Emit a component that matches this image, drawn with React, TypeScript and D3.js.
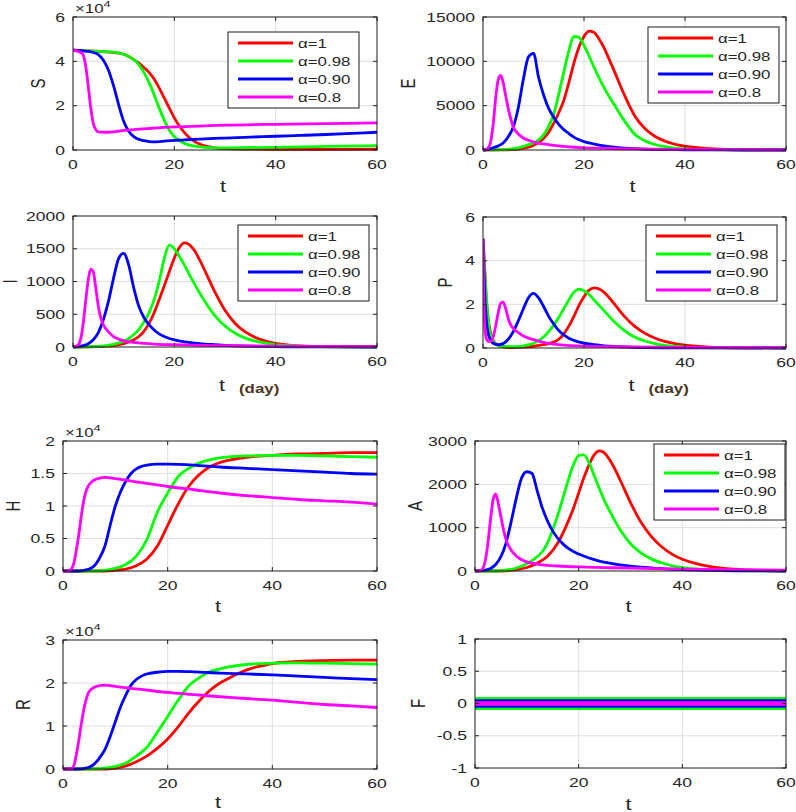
import React from "react";
import * as d3 from "d3";

type Pt = [number, number];

// ---------- shared ----------
const T_TICKS = [0, 20, 40, 60];
const SERIES_LABELS = ["α=1", "α=0.98", "α=0.90", "α=0.8"];
const SERIES_COLORS = ["#ff0000", "#00ff00", "#0000ff", "#ff00ff"];

// ---------- S (x10^4) ----------
const S_TICKS = [0, 2, 4, 6];
const S_a1: Pt[] = [[0,4.5],[2,4.48],[4,4.46],[6,4.44],[8,4.4],[9,4.37],[10,4.32],[11,4.22],[12,4.08],[13,3.92],[14,3.72],[15,3.5],[16,3.2],[17,2.8],[18,2.35],[19,1.9],[20,1.45],[21,1.08],[22,0.78],[23,0.55],[24,0.38],[25,0.27],[26,0.19],[28,0.1],[30,0.06],[35,0.04],[40,0.03],[50,0.03],[60,0.04]];
const S_a098: Pt[] = [[0,4.5],[2,4.48],[4,4.46],[6,4.44],[8,4.42],[9,4.38],[10,4.32],[11,4.22],[12,4.08],[13,3.85],[14,3.5],[15,3.05],[16,2.5],[17,1.9],[18,1.35],[19,0.9],[20,0.6],[21,0.42],[22,0.3],[23,0.22],[24,0.17],[26,0.12],[28,0.1],[30,0.1],[40,0.12],[50,0.16],[60,0.2]];
const S_a090: Pt[] = [[0,4.5],[1,4.49],[2,4.47],[3,4.45],[4,4.4],[5,4.3],[6,4.05],[7,3.6],[8,2.9],[9,2.05],[10,1.3],[11,0.85],[12,0.6],[13,0.48],[14,0.42],[15,0.38],[16,0.37],[17,0.38],[18,0.4],[20,0.43],[22,0.46],[24,0.48],[26,0.5],[28,0.52],[30,0.54],[35,0.58],[40,0.62],[45,0.66],[50,0.7],[55,0.75],[60,0.8]];
const S_a08: Pt[] = [[0,4.5],[1,4.45],[1.5,4.4],[2,4.3],[2.5,3.8],[3,2.9],[3.5,1.9],[4,1.2],[4.5,0.92],[5,0.82],[6,0.8],[7,0.8],[8,0.82],[9,0.85],[10,0.88],[11,0.9],[12,0.92],[15,0.97],[20,1.04],[25,1.08],[30,1.12],[40,1.16],[50,1.19],[60,1.22]];

// ---------- E ----------
const E_TICKS = [0, 5000, 10000, 15000];
const E_a1: Pt[] = [[0,0],[3,5],[4,15],[5,30],[6,60],[7,110],[8,200],[9,330],[10,550],[11,850],[12,1300],[13,2000],[14,3000],[15,4200],[16,5600],[17,7600],[18,9800],[19,11600],[20,12800],[21,13400],[22,13250],[23,12500],[24,11500],[25,10200],[26,8900],[28,6200],[30,3900],[32,2450],[34,1550],[36,1000],[38,650],[40,430],[45,140],[50,40],[55,10],[60,0]];
const E_a098: Pt[] = [[0,0],[2,10],[3,20],[4,40],[5,80],[6,150],[7,250],[8,400],[9,600],[10,800],[11,1150],[12,1700],[13,2700],[14,4000],[15,6300],[16,8800],[17,11200],[18,12800],[19,12700],[20,11800],[21,10600],[22,9300],[23,8100],[24,7000],[25,6000],[26,5100],[28,3300],[30,1800],[32,1050],[34,620],[36,380],[38,220],[40,130],[45,40],[50,10],[60,0]];
const E_a090: Pt[] = [[0,0],[1,80],[2,250],[3,450],[4,800],[5,1500],[6,2600],[7,4800],[8,8000],[9,10500],[10,10900],[11,8200],[12,6200],[13,4700],[14,3700],[15,2900],[16,2300],[17,1850],[18,1450],[19,1150],[20,950],[21,800],[22,660],[23,560],[24,470],[25,390],[26,320],[28,220],[30,150],[32,100],[35,60],[40,25],[45,10],[50,0],[60,0]];
const E_a08: Pt[] = [[0,0],[0.5,30],[1,200],[1.5,900],[2,2800],[2.5,5800],[3,7900],[3.5,8400],[4,7600],[4.5,6100],[5,4700],[5.5,3500],[6,2600],[7,1800],[8,1350],[9,1100],[10,900],[11,780],[12,680],[14,520],[16,400],[18,310],[20,250],[22,210],[25,170],[30,120],[35,90],[40,70],[50,40],[60,25]];

// ---------- I ----------
const I_TICKS = [0, 500, 1000, 1500, 2000];
const I_a1: Pt[] = [[0,0],[5,5],[8,20],[10,50],[12,110],[13,160],[14,240],[15,360],[16,520],[17,720],[18,930],[19,1150],[20,1360],[21,1520],[22,1590],[23,1560],[24,1470],[25,1330],[26,1170],[28,840],[30,560],[32,360],[34,230],[36,145],[38,90],[40,56],[45,15],[50,5],[60,0]];
const I_a098: Pt[] = [[0,0],[5,10],[8,40],[10,90],[11,130],[12,190],[13,270],[14,380],[15,520],[16,720],[17,1000],[18,1350],[19,1555],[20,1500],[21,1380],[22,1250],[23,1100],[24,960],[25,825],[26,700],[28,480],[30,320],[32,210],[34,135],[36,90],[38,60],[40,35],[45,12],[50,4],[60,0]];
const I_a090: Pt[] = [[0,0],[1,5],[2,20],[3,50],[4,110],[5,220],[6,420],[7,700],[8,1050],[9,1350],[10,1430],[11,1250],[12,900],[13,620],[14,450],[15,340],[16,260],[17,200],[18,160],[19,130],[20,110],[22,80],[24,60],[26,45],[28,35],[30,25],[35,12],[40,5],[45,2],[60,0]];
const I_a08: Pt[] = [[0,0],[1,30],[1.5,120],[2,350],[2.5,700],[3,1020],[3.5,1190],[4,1150],[4.5,900],[5,620],[5.5,440],[6,340],[7,230],[8,160],[9,120],[10,95],[12,70],[14,55],[16,45],[20,35],[25,25],[30,20],[40,12],[50,8],[60,5]];

// ---------- P ----------
const P_TICKS = [0, 2, 4, 6];
const P_a1: Pt[] = [[0,5],[0.3,3.8],[0.6,2.5],[1,1.4],[1.5,0.7],[2,0.35],[3,0.12],[4,0.05],[6,0.02],[8,0.04],[10,0.08],[12,0.15],[14,0.27],[15,0.4],[16,0.65],[17,1.0],[18,1.45],[19,1.95],[20,2.35],[21,2.65],[22,2.75],[23,2.7],[24,2.55],[25,2.3],[26,2.02],[28,1.45],[30,1.0],[32,0.68],[34,0.46],[36,0.3],[38,0.2],[40,0.13],[45,0.04],[50,0.01],[60,0]];
const P_a098: Pt[] = [[0,5],[0.2,4],[0.4,3.3],[0.7,2.2],[1,1.3],[1.5,0.6],[2,0.3],[3,0.12],[4,0.07],[6,0.06],[8,0.1],[10,0.22],[12,0.5],[13,0.75],[14,1.05],[15,1.4],[16,1.8],[17,2.2],[18,2.55],[19,2.7],[20,2.62],[21,2.45],[22,2.2],[23,1.95],[24,1.7],[25,1.45],[26,1.2],[28,0.8],[30,0.5],[32,0.32],[34,0.2],[36,0.12],[38,0.07],[40,0.04],[45,0.01],[60,0]];
const P_a090: Pt[] = [[0,5],[0.2,3.5],[0.4,2.2],[0.7,1.2],[1,0.7],[1.5,0.35],[2,0.22],[3,0.15],[4,0.2],[5,0.4],[6,0.75],[7,1.25],[8,1.8],[9,2.3],[10,2.5],[11,2.3],[12,1.9],[13,1.45],[14,1.1],[15,0.8],[16,0.6],[17,0.45],[18,0.35],[20,0.22],[22,0.15],[24,0.1],[26,0.07],[28,0.05],[30,0.03],[35,0.01],[60,0]];
const P_a08: Pt[] = [[0,5],[0.1,3],[0.3,1.2],[0.6,0.5],[1,0.3],[1.5,0.3],[2,0.5],[2.5,1.0],[3,1.6],[3.5,2.05],[4,2.1],[4.5,1.8],[5,1.35],[5.5,1.05],[6,0.9],[7,0.7],[8,0.55],[9,0.45],[10,0.38],[12,0.26],[14,0.18],[16,0.13],[20,0.09],[25,0.06],[30,0.05],[40,0.03],[60,0.02]];

// ---------- H (x10^4) ----------
const H_TICKS = [0, 0.5, 1, 1.5, 2];
const H_a1: Pt[] = [[0,0],[8,0],[10,0.01],[12,0.03],[14,0.08],[16,0.18],[18,0.38],[20,0.7],[22,1.03],[24,1.3],[26,1.48],[28,1.6],[30,1.67],[32,1.71],[35,1.75],[40,1.78],[45,1.8],[50,1.81],[55,1.82],[60,1.82]];
const H_a098: Pt[] = [[0,0],[6,0],[8,0.01],[10,0.04],[12,0.1],[14,0.23],[16,0.48],[18,0.9],[20,1.2],[22,1.45],[24,1.58],[26,1.66],[28,1.71],[30,1.74],[35,1.77],[40,1.78],[45,1.78],[50,1.77],[55,1.76],[60,1.75]];
const H_a090: Pt[] = [[0,0],[3,0],[4,0.01],[5,0.03],[6,0.08],[7,0.2],[8,0.38],[9,0.7],[10,1.0],[11,1.22],[12,1.38],[13,1.5],[14,1.57],[15,1.61],[16,1.63],[18,1.645],[20,1.645],[25,1.63],[30,1.6],[35,1.58],[40,1.56],[45,1.54],[50,1.52],[55,1.5],[60,1.49]];
const H_a08: Pt[] = [[0,0],[1,0],[1.5,0.02],[2,0.1],[2.5,0.3],[3,0.55],[3.5,0.85],[4,1.1],[4.5,1.25],[5,1.33],[6,1.4],[7,1.43],[8,1.44],[10,1.42],[15,1.36],[20,1.3],[25,1.25],[30,1.2],[35,1.16],[40,1.13],[45,1.1],[50,1.08],[55,1.06],[60,1.03]];

// ---------- A ----------
const A_TICKS = [0, 1000, 2000, 3000];
const A_a1: Pt[] = [[0,0],[5,0],[8,30],[10,80],[12,180],[14,340],[16,650],[18,1150],[19,1450],[20,1800],[21,2150],[22,2450],[23,2680],[24,2770],[25,2720],[26,2560],[27,2350],[28,2100],[30,1580],[32,1130],[34,800],[36,560],[38,390],[40,270],[43,160],[46,90],[50,40],[55,10],[60,0]];
const A_a098: Pt[] = [[0,0],[4,0],[6,20],[8,70],[10,170],[12,330],[13,450],[14,650],[15,950],[16,1300],[17,1700],[18,2100],[19,2450],[20,2670],[21,2680],[22,2500],[23,2200],[24,1900],[25,1620],[26,1380],[28,950],[30,630],[32,420],[34,280],[36,190],[38,120],[40,80],[45,30],[50,10],[60,0]];
const A_a090: Pt[] = [[0,0],[1,5],[2,20],[3,60],[4,150],[5,330],[6,650],[7,1150],[8,1700],[9,2150],[10,2290],[11,2250],[12,1850],[13,1450],[14,1150],[15,920],[16,750],[17,620],[18,520],[20,390],[22,300],[24,230],[26,180],[28,140],[30,110],[35,60],[40,30],[45,15],[50,5],[60,0]];
const A_a08: Pt[] = [[0,0],[1,10],[1.5,60],[2,250],[2.5,650],[3,1200],[3.5,1650],[4,1780],[4.5,1550],[5,1250],[5.5,950],[6,720],[7,480],[8,340],[9,260],[10,210],[12,160],[14,130],[16,115],[20,95],[25,80],[30,65],[40,45],[50,30],[60,20]];

// ---------- R (x10^4) ----------
const R_TICKS = [0, 1, 2, 3];
const R_a1: Pt[] = [[0,0],[8,0],[10,0.02],[12,0.07],[14,0.17],[16,0.3],[18,0.48],[20,0.7],[22,0.98],[24,1.3],[26,1.58],[28,1.82],[30,2.0],[32,2.13],[34,2.25],[36,2.34],[38,2.4],[40,2.45],[45,2.5],[50,2.52],[55,2.53],[60,2.53]];
const R_a098: Pt[] = [[0,0],[5,0],[8,0.02],[10,0.06],[12,0.14],[14,0.3],[16,0.5],[18,0.85],[20,1.22],[22,1.6],[24,1.93],[26,2.12],[28,2.26],[30,2.33],[32,2.38],[35,2.43],[40,2.46],[45,2.47],[50,2.46],[55,2.45],[60,2.44]];
const R_a090: Pt[] = [[0,0],[3,0],[4,0.01],[5,0.04],[6,0.12],[7,0.26],[8,0.45],[9,0.75],[10,1.1],[11,1.45],[12,1.72],[13,1.95],[14,2.08],[15,2.16],[16,2.21],[18,2.25],[20,2.27],[22,2.27],[25,2.26],[30,2.23],[35,2.21],[40,2.19],[45,2.16],[50,2.13],[55,2.1],[60,2.08]];
const R_a08: Pt[] = [[0,0],[1.5,0],[2,0.05],[2.5,0.3],[3,0.65],[3.5,1.05],[4,1.4],[4.5,1.65],[5,1.8],[6,1.9],[7,1.94],[8,1.95],[9,1.94],[10,1.92],[15,1.85],[20,1.78],[25,1.73],[30,1.68],[35,1.64],[40,1.6],[45,1.55],[50,1.5],[55,1.47],[60,1.43]];

// ---------- F ----------
const F_TICKS = [-1, -0.5, 0, 0.5, 1];
const F_a1: Pt[] = [[0,0],[60,0]];
const F_a098: Pt[] = [[0,0],[60,0]];
const F_a090: Pt[] = [[0,0],[60,0]];
const F_a08: Pt[] = [[0,0],[60,0]];

// ---------- layout / styling ----------
const FONT = "'Liberation Sans', Arial, Helvetica, sans-serif";
const SX = 1.35;
const TXT = "#262626";

type PanelCfg = {
  name: string;
  series: Pt[][];
  yTicks: number[];
  l: number; t: number; r: number; b: number;
  ylabX: number;
  xlabY: number;
  exp?: boolean;
  legend?: [number, number];
  day?: boolean;
  widths?: number[];
};

const PANELS: PanelCfg[] = [
  { name: "S", series: [S_a1, S_a098, S_a090, S_a08], yTicks: S_TICKS, l: 73, t: 17, r: 377, b: 150, ylabX: 38, xlabY: 192, exp: true, legend: [228, 32] },
  { name: "E", series: [E_a1, E_a098, E_a090, E_a08], yTicks: E_TICKS, l: 483, t: 17, r: 786, b: 150, ylabX: 408, xlabY: 192, legend: [648, 27] },
  { name: "I", series: [I_a1, I_a098, I_a090, I_a08], yTicks: I_TICKS, l: 73, t: 216, r: 377, b: 347, ylabX: 10, xlabY: 391, legend: [238, 225], day: true },
  { name: "P", series: [P_a1, P_a098, P_a090, P_a08], yTicks: P_TICKS, l: 483, t: 217, r: 786, b: 348, ylabX: 445, xlabY: 391, legend: [646, 225], day: true },
  { name: "H", series: [H_a1, H_a098, H_a090, H_a08], yTicks: H_TICKS, l: 63, t: 441, r: 377, b: 571, ylabX: 13, xlabY: 612, exp: true },
  { name: "A", series: [A_a1, A_a098, A_a090, A_a08], yTicks: A_TICKS, l: 475, t: 441, r: 786, b: 571, ylabX: 415, xlabY: 612, legend: [654, 444] },
  { name: "R", series: [R_a1, R_a098, R_a090, R_a08], yTicks: R_TICKS, l: 63, t: 640, r: 377, b: 769, ylabX: 23, xlabY: 808, exp: true },
  { name: "F", series: [F_a1, F_a098, F_a090, F_a08], yTicks: F_TICKS, l: 475, t: 639, r: 786, b: 768, ylabX: 418, xlabY: 810, widths: [11, 13, 8.5, 4.5] },
];

function T({ x, y, anchor = "start", size = 13, weight = "normal", fill = TXT, rotate = false, baseline, children }: any) {
  const tr = rotate
    ? `translate(${x},${y}) scale(${SX},1) rotate(-90)`
    : `translate(${x},${y}) scale(${SX},1)`;
  return (
    <text transform={tr} textAnchor={anchor} fontSize={size} fontWeight={weight} fill={fill} fontFamily={FONT} dominantBaseline={baseline}>
      {children}
    </text>
  );
}

function fmt(v: number) {
  return String(v);
}

function Panel({ cfg, idx }: { cfg: PanelCfg; idx: number }) {
  const yDom = d3.extent(cfg.yTicks) as [number, number];
  const x = d3.scaleLinear().domain([0, 60]).range([cfg.l, cfg.r]);
  const y = d3.scaleLinear().domain(yDom).range([cfg.b, cfg.t]);
  const line = d3.line<Pt>().x((d) => x(d[0])).y((d) => y(d[1])).curve(d3.curveMonotoneX);
  const clipId = `clip${idx}`;
  const tk = 4;
  const cx = (cfg.l + cfg.r) / 2;
  const cy = (cfg.t + cfg.b) / 2;
  return (
    <g>
      <defs>
        <clipPath id={clipId}>
          <rect x={cfg.l} y={cfg.t - 2} width={cfg.r - cfg.l} height={cfg.b - cfg.t + 4} />
        </clipPath>
      </defs>
      <rect x={cfg.l} y={cfg.t} width={cfg.r - cfg.l} height={cfg.b - cfg.t} fill="#fff" />
      {T_TICKS.filter((v) => v > 0 && v < 60).map((v) => (
        <line key={"gx" + v} x1={x(v)} x2={x(v)} y1={cfg.t} y2={cfg.b} stroke="#dedede" strokeWidth={1} />
      ))}
      {cfg.yTicks.filter((v) => v > yDom[0] && v < yDom[1]).map((v) => (
        <line key={"gy" + v} x1={cfg.l} x2={cfg.r} y1={y(v)} y2={y(v)} stroke="#dedede" strokeWidth={1} />
      ))}
      <g clipPath={`url(#${clipId})`}>
        {cfg.series.map((s, i) => (
          <path key={i} d={line(s) || ""} fill="none" stroke={SERIES_COLORS[i]} strokeWidth={cfg.widths ? cfg.widths[i] : 2.8} strokeLinejoin="round" strokeLinecap="butt" />
        ))}
      </g>
      {T_TICKS.map((v) => (
        <g key={"tx" + v}>
          <line x1={x(v)} x2={x(v)} y1={cfg.b} y2={cfg.b - tk} stroke="#222" />
          <line x1={x(v)} x2={x(v)} y1={cfg.t} y2={cfg.t + tk} stroke="#222" />
          <T x={x(v)} y={cfg.b + 19} anchor="middle">{fmt(v)}</T>
        </g>
      ))}
      {cfg.yTicks.map((v) => (
        <g key={"ty" + v}>
          <line x1={cfg.l} x2={cfg.l + tk} y1={y(v)} y2={y(v)} stroke="#222" />
          <line x1={cfg.r} x2={cfg.r - tk} y1={y(v)} y2={y(v)} stroke="#222" />
          <T x={cfg.l - 8} y={y(v) + 4.5} anchor="end">{fmt(v)}</T>
        </g>
      ))}
      <rect x={cfg.l} y={cfg.t} width={cfg.r - cfg.l} height={cfg.b - cfg.t} fill="none" stroke="#1a1a1a" strokeWidth={1} />
      <T x={cfg.ylabX} y={cy} anchor="middle" size={15} rotate baseline="central">{cfg.name}</T>
      {cfg.day ? (
        <g>
          <T x={cx - 3} y={cfg.xlabY} anchor="middle" size={16}>t</T>
          <T x={cx + 14} y={cfg.xlabY + 2} size={12.5} weight="bold" fill="#4d3520">(day)</T>
        </g>
      ) : (
        <T x={cx - 2} y={cfg.xlabY} anchor="middle" size={16}>t</T>
      )}
      {cfg.exp && (
        <text transform={`translate(${cfg.l + 2},${cfg.t - 4}) scale(${SX},1)`} fontSize={12.5} fill={TXT} fontFamily={FONT}>
          ×10<tspan dy={-6} fontSize={9.5}>4</tspan>
        </text>
      )}
      {cfg.legend && (
        <g transform={`translate(${cfg.legend[0]},${cfg.legend[1]})`}>
          <rect x={0} y={0} width={131} height={76} fill="#fff" stroke="#1a1a1a" strokeWidth={1} />
          {SERIES_LABELS.map((lab, i) => (
            <g key={lab}>
              <line x1={10} x2={65} y1={11 + i * 18} y2={11 + i * 18} stroke={SERIES_COLORS[i]} strokeWidth={3} />
              <T x={70} y={11 + i * 18 + 4.5} size={12.5}>{lab}</T>
            </g>
          ))}
        </g>
      )}
    </g>
  );
}

export default function App() {
  return (
    <svg width={796} height={812} viewBox="0 0 796 812" style={{ position: "absolute", left: 0, top: 0, background: "#fff" }}>
      <rect x={0} y={0} width={796} height={812} fill="#fff" />
      {PANELS.map((p, i) => (
        <Panel key={p.name} cfg={p} idx={i} />
      ))}
    </svg>
  );
}
